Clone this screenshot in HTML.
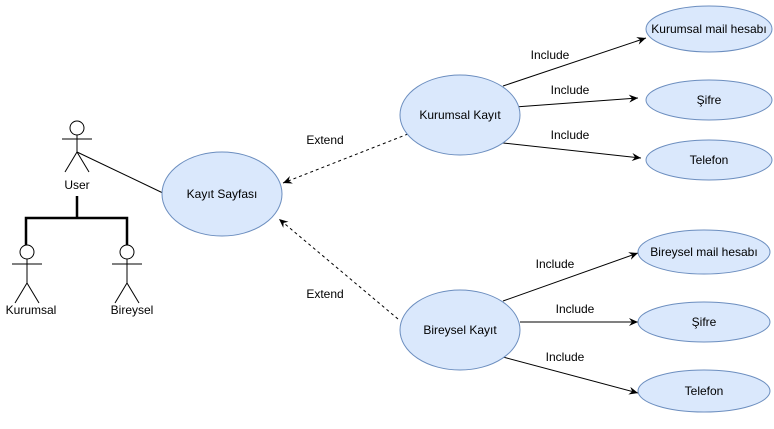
<!DOCTYPE html>
<html><head><style>body{margin:0;background:#fff}</style></head><body>
<svg width="774" height="424" viewBox="0 0 774 424" xmlns="http://www.w3.org/2000/svg" font-family="Liberation Sans, sans-serif" font-size="12">
<defs>
<marker id="a" markerWidth="10" markerHeight="10" refX="9" refY="5" orient="auto" markerUnits="userSpaceOnUse"><path d="M0,1 L9,5 L0,9 L3,5 Z" fill="#000"/></marker>
</defs>
<g stroke="#000" fill="none">
<!-- User actor -->
<circle cx="77" cy="128" r="7" fill="#fff"/>
<line x1="62" y1="139" x2="92" y2="139"/>
<line x1="77" y1="135" x2="77" y2="152"/>
<line x1="77" y1="152" x2="65" y2="172"/><line x1="77" y1="152" x2="89" y2="172"/>
<line x1="77" y1="152" x2="165" y2="194"/>
<!-- generalization -->
<path d="M77,196 V218 M26,245 V218 H127 V245" stroke-width="2.5"/>
<circle cx="27" cy="252" r="7" fill="#fff"/>
<line x1="12" y1="264" x2="42" y2="264"/>
<line x1="27" y1="259" x2="27" y2="283"/>
<line x1="27" y1="283" x2="15" y2="303"/><line x1="27" y1="283" x2="39" y2="303"/>
<circle cx="127" cy="252" r="7" fill="#fff"/>
<line x1="112" y1="264" x2="142" y2="264"/>
<line x1="127" y1="259" x2="127" y2="283"/>
<line x1="127" y1="283" x2="115" y2="303"/><line x1="127" y1="283" x2="139" y2="303"/>
<!-- arrows -->
<line x1="503" y1="86" x2="646" y2="38" marker-end="url(#a)"/>
<line x1="515" y1="107" x2="638" y2="98" marker-end="url(#a)"/>
<line x1="503" y1="143" x2="641" y2="158" marker-end="url(#a)"/>
<line x1="503" y1="301" x2="638" y2="253" marker-end="url(#a)"/>
<line x1="520" y1="322" x2="638" y2="322" marker-end="url(#a)"/>
<line x1="503" y1="357" x2="638" y2="393" marker-end="url(#a)"/>
<line x1="408" y1="134" x2="283" y2="183" stroke-dasharray="3,3" marker-end="url(#a)"/>
<line x1="398" y1="319" x2="279" y2="219" stroke-dasharray="3,3" marker-end="url(#a)"/>
</g>
<g fill="#dae8fc" stroke="#6c8ebf">
<ellipse cx="222" cy="194" rx="60" ry="42"/>
<ellipse cx="460" cy="115" rx="60" ry="40"/>
<ellipse cx="460" cy="330" rx="60" ry="40"/>
<ellipse cx="709" cy="29" rx="63" ry="23"/>
<ellipse cx="709" cy="100" rx="63" ry="20"/>
<ellipse cx="709" cy="160" rx="63" ry="20"/>
<ellipse cx="704" cy="252" rx="66" ry="22"/>
<ellipse cx="704" cy="322" rx="66" ry="20"/>
<ellipse cx="704" cy="391" rx="66" ry="21"/>
</g>
<g fill="#000" text-anchor="middle">
<text x="77" y="189">User</text>
<text x="31" y="314">Kurumsal</text>
<text x="132" y="314">Bireysel</text>
<text x="222" y="198">Kayıt Sayfası</text>
<text x="460" y="119">Kurumsal Kayıt</text>
<text x="460" y="334">Bireysel Kayıt</text>
<text x="709" y="33">Kurumsal mail hesabı</text>
<text x="709" y="104">Şifre</text>
<text x="709" y="164">Telefon</text>
<text x="704" y="256">Bireysel mail hesabı</text>
<text x="704" y="326">Şifre</text>
<text x="704" y="395">Telefon</text>
<text x="550" y="59">Include</text>
<text x="570" y="94">Include</text>
<text x="570" y="139">Include</text>
<text x="555" y="268">Include</text>
<text x="575" y="313">Include</text>
<text x="565" y="361">Include</text>
<text x="325" y="144">Extend</text>
<text x="325" y="298">Extend</text>
</g>
</svg>
</body></html>
